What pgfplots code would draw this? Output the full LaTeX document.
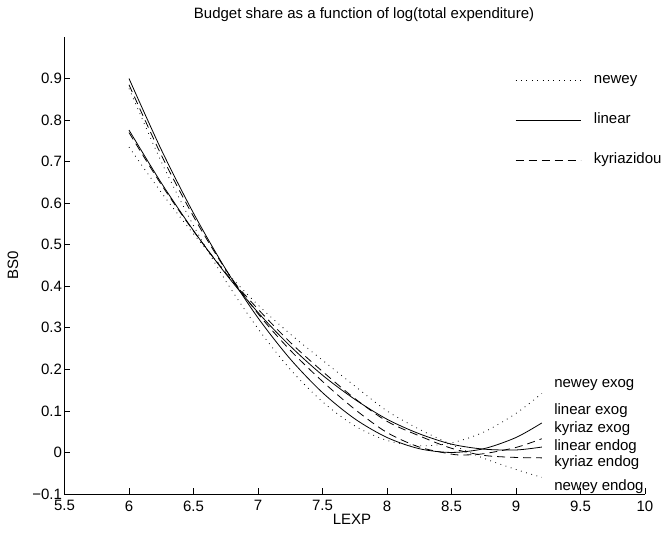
\documentclass[border=0pt]{standalone}
\usepackage{pgfplots}
\pgfplotsset{compat=1.18}
\usepackage{fontspec}
\setmainfont{Liberation Sans}
\newcommand{\fs}{\fontsize{15pt}{18pt}\selectfont}
\begin{document}
\begin{tikzpicture}
\useasboundingbox (-64.5pt,-39pt) rectangle (599.5pt,494pt);
\begin{axis}[
  at={(0pt,0pt)}, anchor=south west,
  scale only axis, width=580.5pt, height=457pt,
  xmin=5.5, xmax=10, ymin=-0.1, ymax=1.0,
  axis x line*=bottom, axis y line*=left,
  axis line style={line width=0.8pt, -},
  xtick={5.5,6,6.5,7,7.5,8,8.5,9,9.5,10},
  xticklabels={5.5,6,6.5,7,7.5,8,8.5,9,9.5,10},
  ytick={-0.1,0,0.1,0.2,0.3,0.4,0.5,0.6,0.7,0.8,0.9},
  yticklabels={−0.1,0,0.1,0.2,0.3,0.4,0.5,0.6,0.7,0.8,0.9},
  tick align=inside, major tick length=6pt,
  tick style={black, line width=0.8pt},
  tick label style={font=\fs},
  xticklabel style={yshift=-3pt},
  yticklabel style={xshift=1pt},
  xlabel={LEXP}, ylabel={BS0},
  xlabel style={font=\fs, at={(axis description cs:0.4953,-0.0547)}, anchor=center},
  ylabel style={font=\fs, at={(axis description cs:-0.0887,0.5)}, anchor=center, rotate=0},
  title={Budget share as a function of log(total expenditure)},
  title style={font=\fs, at={(axis description cs:0.516,1.0355)}, anchor=center},
  clip=false,
  legend style={draw=none, fill=none, font=\fs, at={(axis description cs:0.776,0.8184)}, anchor=west,
    inner sep=0pt, row sep=26pt, column sep=13pt,
    nodes={inner sep=0pt, text height=11pt, text depth=3pt}},
  legend cell align=left,
  legend image code/.code={\draw[#1] (0pt,0pt) -- (65pt,0pt);},
]
\addlegendimage{black, line width=0.8pt, dash pattern=on 0.8pt off 4.6pt}
\addlegendentry{newey}
\addlegendimage{black, line width=0.8pt}
\addlegendentry{linear}
\addlegendimage{black, line width=0.8pt, dash pattern=on 8pt off 5pt}
\addlegendentry{kyriazidou}

% linear exog
\addplot[forget plot, black, line width=0.8pt, smooth] coordinates {
(6.0,0.900) (6.25,0.729) (6.5,0.576) (6.75,0.441) (7.0,0.324) (7.25,0.225) (7.5,0.144)
(7.75,0.081) (8.0,0.036) (8.25,0.009) (8.5,0.000) (8.75,0.009) (9.0,0.036) (9.2,0.071)};
% linear endog
\addplot[forget plot, black, line width=0.8pt, smooth] coordinates {
(6.0,0.776) (6.25,0.649) (6.5,0.534) (6.75,0.430) (7.0,0.337) (7.25,0.256) (7.5,0.186)
(7.75,0.128) (8.0,0.080) (8.25,0.045) (8.5,0.020) (8.75,0.008) (9.0,0.006) (9.2,0.013)};
% kyriaz exog
\addplot[forget plot, black, line width=0.8pt, smooth, dash pattern=on 8pt off 5pt] coordinates {
(6.0,0.885) (6.25,0.716) (6.5,0.568) (6.75,0.440) (7.0,0.334) (7.25,0.246) (7.5,0.171)
(7.75,0.104) (8.0,0.048) (8.25,0.013) (8.5,-0.004) (8.6,-0.006) (8.75,-0.003) (9.0,0.012) (9.2,0.033)};
% kyriaz endog
\addplot[forget plot, black, line width=0.8pt, smooth, dash pattern=on 8pt off 5pt] coordinates {
(6.0,0.770) (6.25,0.645) (6.5,0.533) (6.75,0.432) (7.0,0.345) (7.25,0.265) (7.5,0.195)
(7.75,0.130) (8.0,0.075) (8.25,0.040) (8.5,0.010) (8.75,-0.007) (9.0,-0.012) (9.2,-0.013)};
% newey exog
\addplot[forget plot, black, line width=0.8pt, smooth, dash pattern=on 0.8pt off 4.6pt] coordinates {
(6.0,0.876) (6.25,0.700) (6.5,0.546) (6.75,0.413) (7.0,0.298) (7.25,0.200) (7.5,0.122)
(7.75,0.064) (8.0,0.029) (8.25,0.016) (8.5,0.023) (8.75,0.049) (9.0,0.094) (9.2,0.142)};
% newey endog
\addplot[forget plot, black, line width=0.8pt, smooth, dash pattern=on 0.8pt off 4.6pt] coordinates {
(6.0,0.735) (6.25,0.626) (6.5,0.526) (6.75,0.436) (7.0,0.355) (7.25,0.285) (7.5,0.222)
(7.75,0.160) (8.0,0.100) (8.25,0.056) (8.5,0.019) (8.75,-0.014) (9.0,-0.041) (9.2,-0.060)};

\node[anchor=west, inner sep=0pt, font=\fs] at (axis cs:9.295,0.162) {newey exog};
\node[anchor=west, inner sep=0pt, font=\fs] at (axis cs:9.295,0.0998) {linear exog};
\node[anchor=west, inner sep=0pt, font=\fs] at (axis cs:9.295,0.0565) {kyriaz exog};
\node[anchor=west, inner sep=0pt, font=\fs] at (axis cs:9.295,0.0132) {linear endog};
\node[anchor=west, inner sep=0pt, font=\fs] at (axis cs:9.295,-0.0252) {kyriaz endog};
\node[anchor=west, inner sep=0pt, font=\fs] at (axis cs:9.295,-0.083) {newey endog};
\end{axis}
\end{tikzpicture}
\end{document}
